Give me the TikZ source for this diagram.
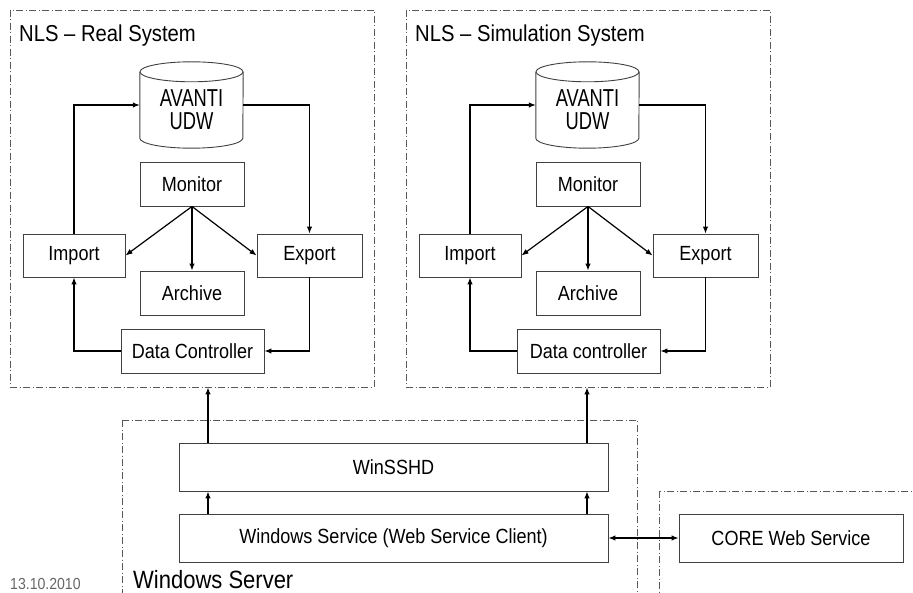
\documentclass[tikz,border=0pt]{standalone}
\usepackage{fontspec}
\setmainfont[FakeStretch=0.88]{Liberation Sans}
\usetikzlibrary{arrows.meta}

\tikzset{
  blk/.style={draw=black!75, line width=0.9pt, inner sep=0pt, font=\fontsize{20.5}{22}\selectfont},
  db/.style={inner sep=0pt, align=center, font=\fontsize{24.5}{23}\selectfont,
    minimum width=103pt, minimum height=86pt},
  dbline/.style={draw=black!75, line width=0.9pt},
  sysbox/.style={draw=black!65, line width=0.9pt, dash pattern=on 7pt off 2.5pt on 1pt off 2.5pt},
  systitle/.style={anchor=base west, inner sep=0pt, font=\fontsize{23}{25}\selectfont},
  arr/.style={line width=1.2pt, -{Latex[length=7pt,width=5.5pt]}},
  dblarr/.style={line width=1.2pt, {Latex[length=7pt,width=5.5pt]}-{Latex[length=7pt,width=5.5pt]}},
}
\newcommand{\narrow}[1]{\scalebox{0.85}[1]{#1}}

\begin{document}
\begin{tikzpicture}[x=1pt,y=-1pt]
\useasboundingbox (0,0) rectangle (913,593);

% NLS real system
\node[sysbox, minimum width=364pt, minimum height=377pt] (realsys) at (192,198.5) {};
\node[systitle] (realtitle) at (19,42) {NLS – Real System};
\node[db] (avR) at (191.5,105) {\rule{0pt}{26pt}\narrow{AVANTI}\\\narrow{UDW}};
\draw[dbline] ([yshift=-10pt]avR.north) ellipse[x radius=51.5pt, y radius=10pt];
\draw[dbline] ([yshift=-10pt]avR.north west) -- ([yshift=10pt]avR.south west)
  arc[start angle=180, end angle=360, x radius=51.5pt, y radius=10pt] -- ([yshift=-10pt]avR.north east);
\node[blk, minimum width=104pt, minimum height=44pt] (monR) at (192,184) {Monitor};
\node[blk, minimum width=102pt, minimum height=43pt] (impR) at (74,255.5) {Import};
\node[blk, minimum width=105pt, minimum height=43pt] (expR) at (309.5,255.5) {Export};
\node[blk, minimum width=104pt, minimum height=44pt] (arcR) at (192,293) {Archive};
\node[blk, minimum width=143pt, minimum height=44pt] (dcR) at (192.5,351) {Data Controller};

\draw[arr] (impR.north) |- (avR.west);
\draw[arr] (avR.east) -| (expR.north);
\draw[arr] (monR.south) -- (impR.east);
\draw[arr] (monR.south) -- (arcR.north);
\draw[arr] (monR.south) -- (expR.west);
\draw[arr] (expR.south) |- (dcR.east);
\draw[arr] (dcR.west) -| (impR.south);

% NLS simulation system
\node[sysbox, minimum width=364pt, minimum height=377pt] (simsys) at (588,198.5) {};
\node[systitle] (simtitle) at (415,42) {NLS – Simulation System};
\node[db] (avS) at (587.5,105) {\rule{0pt}{26pt}\narrow{AVANTI}\\\narrow{UDW}};
\draw[dbline] ([yshift=-10pt]avS.north) ellipse[x radius=51.5pt, y radius=10pt];
\draw[dbline] ([yshift=-10pt]avS.north west) -- ([yshift=10pt]avS.south west)
  arc[start angle=180, end angle=360, x radius=51.5pt, y radius=10pt] -- ([yshift=-10pt]avS.north east);
\node[blk, minimum width=104pt, minimum height=44pt] (monS) at (588,184) {Monitor};
\node[blk, minimum width=102pt, minimum height=43pt] (impS) at (470,255.5) {Import};
\node[blk, minimum width=105pt, minimum height=43pt] (expS) at (705.5,255.5) {Export};
\node[blk, minimum width=104pt, minimum height=44pt] (arcS) at (588,293) {Archive};
\node[blk, minimum width=143pt, minimum height=44pt] (dcS) at (588.5,351) {Data controller};

\draw[arr] (impS.north) |- (avS.west);
\draw[arr] (avS.east) -| (expS.north);
\draw[arr] (monS.south) -- (impS.east);
\draw[arr] (monS.south) -- (arcS.north);
\draw[arr] (monS.south) -- (expS.west);
\draw[arr] (expS.south) |- (dcS.east);
\draw[arr] (dcS.west) -| (impS.south);

% windows server
\draw[sysbox] (122,420) rectangle (637,630);
\node[systitle, font=\fontsize{25}{27}\selectfont] (srvtitle) at (133,588) {Windows Server};
\node[blk, minimum width=429pt, minimum height=48pt] (ssh) at (393.5,467) {WinSSHD};
\node[blk, minimum width=429pt, minimum height=48pt] (ws) at (393.5,538) {Windows Service (Web Service Client)};
\coordinate (lnkR) at (208,0);
\coordinate (lnkS) at (587,0);

\draw[arr] (ssh.north -| lnkR) -- (realsys.south -| lnkR);
\draw[arr] (ssh.north -| lnkS) -- (simsys.south -| lnkS);
\draw[arr] (ws.north -| lnkR) -- (ssh.south -| lnkR);
\draw[arr] (ws.north -| lnkS) -- (ssh.south -| lnkS);

% core
\draw[sysbox] (659,491) rectangle (950,630);
\node[blk, minimum width=224pt, minimum height=48pt] (core) at (791,538) {CORE Web Service};
\draw[dblarr] (ws.east) -- (core.west);

\node[anchor=base west, inner sep=0pt, text=black!60, font=\fontsize{16}{18}\selectfont] (datum) at (10,589) {13.10.2010};
\end{tikzpicture}
\end{document}
